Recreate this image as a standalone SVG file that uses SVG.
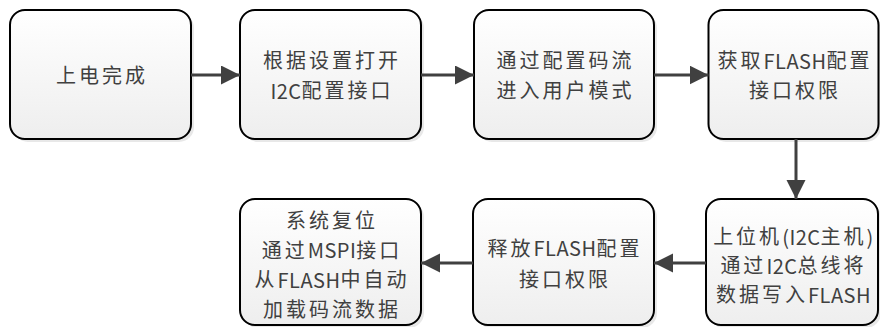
<svg xmlns="http://www.w3.org/2000/svg" width="880" height="327" viewBox="0 0 880 327">
<defs>
<linearGradient id="g" x1="0" y1="0" x2="0" y2="1">
<stop offset="0" stop-color="#ffffff"/>
<stop offset="1" stop-color="#eeeeee"/>
</linearGradient>
<marker id="ah" markerUnits="userSpaceOnUse" markerWidth="20" markerHeight="20" refX="19" refY="9.5" orient="auto">
<path d="M0,0 L19,9.5 L0,19 Z" fill="#404040"/>
</marker>
</defs>
<style>
.sh{fill:#d9d9d9;opacity:0.6}
.bx{fill:url(#g);stroke:#000;stroke-width:2}
.t{font-family:"Noto Sans CJK SC","Noto Sans",sans-serif;font-size:20px;letter-spacing:3px;fill:#404040;text-anchor:middle;dominant-baseline:central}
.l{letter-spacing:0.5px}
.c{stroke:#404040;stroke-width:3;fill:none;marker-end:url(#ah)}
</style>
<rect width="880" height="327" fill="#fff"/>
<g id="n1">
<rect class="sh" x="13" y="13" width="181" height="129" rx="15"/>
<rect class="bx" x="10" y="10" width="181" height="129" rx="15"/>
<text class="t" x="102" y="74.5">上电完成</text>
</g>
<g id="n2">
<rect class="sh" x="243" y="13" width="181" height="129" rx="15"/>
<rect class="bx" x="240" y="10" width="181" height="129" rx="15"/>
<text class="t" x="332" y="59.5">根据设置打开</text>
<text class="t" x="332" y="89.5"><tspan class="l">I2C</tspan>配置接口</text>
</g>
<g id="n3">
<rect class="sh" x="477" y="13" width="180" height="129" rx="15"/>
<rect class="bx" x="474" y="10" width="180" height="129" rx="15"/>
<text class="t" x="565.5" y="59.5">通过配置码流</text>
<text class="t" x="565.5" y="89.5">进入用户模式</text>
</g>
<g id="n4">
<rect class="sh" x="711" y="13" width="170" height="129" rx="15"/>
<rect class="bx" x="708.5" y="10" width="170" height="129" rx="15"/>
<text class="t" x="795" y="59.5">获取<tspan class="l">FLASH</tspan>配置</text>
<text class="t" x="795" y="89.5">接口权限</text>
</g>
<g id="n5">
<rect class="sh" x="709" y="202" width="172" height="126" rx="15"/>
<rect class="bx" x="706" y="199" width="172" height="126" rx="15"/>
<text class="t" x="793.5" y="235.5">上位机<tspan class="l">(I2C</tspan>主机<tspan class="l">)</tspan></text>
<text class="t" x="793.5" y="264.5">通过<tspan class="l">I2C</tspan>总线将</text>
<text class="t" x="793.5" y="293.5">数据写入<tspan class="l">FLASH</tspan></text>
</g>
<g id="n6">
<rect class="sh" x="476" y="202" width="181" height="126" rx="15"/>
<rect class="bx" x="473" y="199" width="181" height="126" rx="15"/>
<text class="t" x="565" y="247">释放<tspan class="l">FLASH</tspan>配置</text>
<text class="t" x="565" y="278">接口权限</text>
</g>
<g id="n7">
<rect class="sh" x="243" y="202" width="181" height="126" rx="15"/>
<rect class="bx" x="240" y="199" width="181" height="126" rx="15"/>
<text class="t" x="332" y="219.5">系统复位</text>
<text class="t" x="332" y="249">通过<tspan class="l">MSPI</tspan>接口</text>
<text class="t" x="332" y="278.5">从<tspan class="l">FLASH</tspan>中自动</text>
<text class="t" x="332" y="308">加载码流数据</text>
</g>
<g id="connectors">
<line class="c" x1="191" y1="75" x2="240" y2="75"/>
<line class="c" x1="421" y1="75" x2="474" y2="75"/>
<line class="c" x1="654" y1="75" x2="708.5" y2="75"/>
<line class="c" x1="796" y1="139" x2="796" y2="199"/>
<line class="c" x1="706" y1="263" x2="654" y2="263"/>
<line class="c" x1="473" y1="263" x2="421" y2="263"/>
</g>
</svg>
